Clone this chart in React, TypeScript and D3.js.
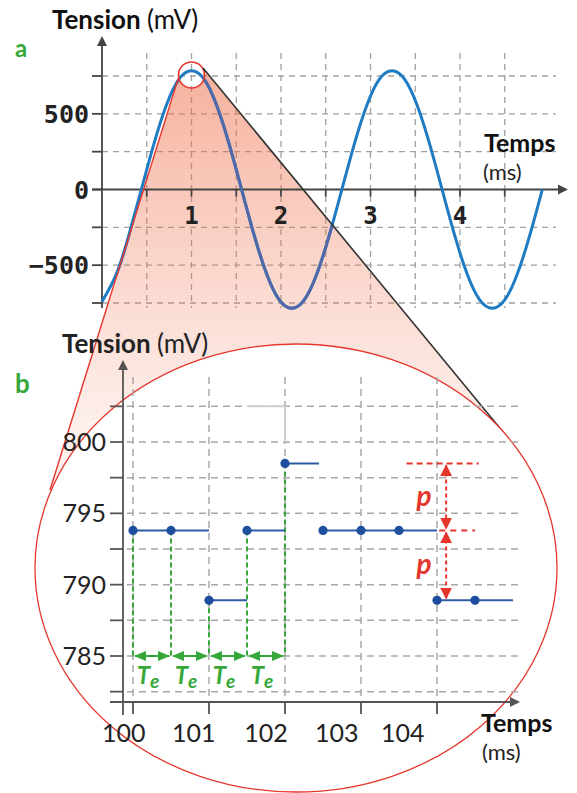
import * as d3 from "d3";

// ---- chart a : 440 Hz-like tension wave
const waveTimes = [
  0, 0.16, 0.3, 0.44, 0.58, 0.72, 0.86, 1.0, 1.14, 1.28, 1.42, 1.56, 1.7, 1.84,
  1.98, 2.12, 2.26, 2.4, 2.54, 2.68, 2.82, 2.96, 3.1, 3.24, 3.38, 3.52, 3.66,
  3.8, 3.94, 4.08, 4.22, 4.36, 4.5, 4.64, 4.78, 4.92,
];
const waveValues = [
  -740, -559, -302, 0, 302, 559, 730, 785, 730, 559, 302, 0, -302, -559, -730,
  -785, -730, -559, -302, 0, 302, 559, 730, 785, 730, 559, 302, 0, -302, -559,
  -730, -785, -730, -559, -302, 0,
];
const topYTicks = [-750, -500, -250, 0, 250, 500, 750];
const topYLabels = [-500, 0, 500];
const topXTicks = [0.5, 1, 1.5, 2, 2.5, 3, 3.5, 4, 4.5];
const topXLabels = [1, 2, 3, 4];

// ---- chart b : sampled + quantized signal
const sampleTimes = [100, 100.5, 101, 101.5, 102, 102.5, 103, 103.5, 104, 104.5];
const sampleValues = [793.8, 793.8, 788.9, 793.8, 798.5, 793.8, 793.8, 793.8, 788.9, 788.9];
const botYTicks = [782.5, 785, 787.5, 790, 792.5, 795, 797.5, 800, 802.5];
const botYLabels = [785, 790, 795, 800];
const botXTicks = [100, 101, 102, 103, 104];
const botXLabelNames = ["100", "101", "102", "103", "104"];
const botXLabelAt = [99.88, 100.8, 101.75, 102.68, 103.55];
const teCount = 4; // number of Te intervals drawn

const GREEN = "#36a83a";
const RED = "#e5362c";
const BLUE = "#1f7bc2";
const FONT = "Lato, 'Open Sans', sans-serif";
const MONO = "'DejaVu Sans Mono', monospace";

const App = () => {
  // scales chart a
  const xA = d3.scaleLinear().domain([0, 5]).range([102, 549.5]);
  const yA = d3.scaleLinear().domain([-750, 750]).range([303, 76]);
  // scales chart b
  const xB = d3.scaleLinear().domain([100, 104]).range([133, 437]);
  const yB = d3.scaleLinear().domain([785, 800]).range([656, 442]);

  const wavePts = waveTimes.map((t, i) => [t, waveValues[i]] as [number, number]);
  const waveLine = d3
    .line<[number, number]>()
    .x((d) => xA(d[0]))
    .y((d) => yA(d[1]))
    .curve(d3.curveNatural);
  const wavePath = waveLine(wavePts) || "";

  // zoom cone geometry
  const zc = { x: xA(1), y: 75, r: 13 };
  const ell = { cx: 296, cy: 568, rx: 261, ry: 224 };
  const coneL0 = [178, 79];
  const coneR0 = [203, 68];
  const coneL1 = [50, 490];
  const coneR1 = [508, 438];
  const conePoly = [coneL0, coneR0, coneR1, [ell.cx, ell.cy], coneL1]
    .map((p) => p.join(","))
    .join(" ");

  const levels = Array.from(new Set(sampleValues)).sort((a, b) => b - a);
  const pX = xB(104.12);

  return (
    <svg
      width={577}
      height={793}
      style={{ position: "absolute", left: 0, top: 0, background: "#fff" }}
      fontFamily={FONT}
    >
      <defs>
        <linearGradient id="coneGrad" gradientUnits="userSpaceOnUse" x1="0" y1="70" x2="0" y2="430">
          <stop offset="0" stopColor="#ef6a45" stopOpacity={0.52} />
          <stop offset="1" stopColor="#f08060" stopOpacity={0.12} />
        </linearGradient>
        <mask id="noCircle">
          <rect x={0} y={0} width={577} height={793} fill="#fff" />
          <circle cx={zc.x} cy={zc.y} r={zc.r} fill="#000" />
        </mask>
        <clipPath id="coneClip">
          <polygon points={conePoly} />
        </clipPath>
        <marker id="arrG" viewBox="0 0 10 10" refX="9" refY="5" markerWidth="7" markerHeight="7" orient="auto-start-reverse">
          <path d="M0,1 L10,5 L0,9 z" fill={GREEN} />
        </marker>
        <marker id="arrR" viewBox="0 0 10 10" refX="9" refY="5" markerWidth="6" markerHeight="8" orient="auto-start-reverse">
          <path d="M0,0 L10,5 L0,10 z" fill={RED} />
        </marker>
      </defs>

      {/* ================= chart a ================= */}
      <g>
        {topXTicks.map((t) => (
          <line key={"gx" + t} x1={xA(t)} x2={xA(t)} y1={53} y2={308}
            stroke="#a0a0a0" strokeWidth={1.3} strokeDasharray="6,5" />
        ))}
        {topYTicks.filter((v) => v !== 0).map((v) => (
          <line key={"gy" + v} x1={102} x2={556} y1={yA(v)} y2={yA(v)}
            stroke="#a0a0a0" strokeWidth={1.3} strokeDasharray="6,5" />
        ))}
      </g>

      {/* cone fill under the wave */}
      <polygon points={conePoly} fill="url(#coneGrad)" mask="url(#noCircle)" />

      {/* axes a */}
      <g stroke="#444" strokeWidth={1.8}>
        <line x1={xA(0)} x2={xA(0)} y1={308} y2={44} />
        <line x1={92} x2={560} y1={yA(0)} y2={yA(0)} />
        {topYTicks.map((v) => (
          <line key={"ty" + v} x1={92} x2={xA(0)} y1={yA(v)} y2={yA(v)} />
        ))}
        {topXTicks.map((t) => (
          <line key={"tx" + t} x1={xA(t)} x2={xA(t)} y1={yA(0)} y2={yA(0) + 7} />
        ))}
      </g>
      <path d={`M${xA(0) - 5},46 L${xA(0)},36 L${xA(0) + 5},46 z`} fill="#444" />
      <path d={`M558,${yA(0) - 5} L568,${yA(0)} L558,${yA(0) + 5} z`} fill="#444" />

      {/* wave */}
      <path d={wavePath} fill="none" stroke={BLUE} strokeWidth={3} />
      <g clipPath="url(#coneClip)">
        <path d={wavePath} fill="none" stroke="#5169a8" strokeWidth={3} mask="url(#noCircle)" />
      </g>

      {/* labels a */}
      {topYLabels.map((v) => (
        <text key={"ly" + v} x={89} y={yA(v) + 9} textAnchor="end" fontFamily={MONO}
          fontWeight="bold" fontSize={25} fill="#222">
          {v < 0 ? "\u2212" + Math.abs(v) : v}
        </text>
      ))}
      {topXLabels.map((t) => (
        <text key={"lx" + t} x={xA(t)} y={224} textAnchor="middle" fontFamily={MONO}
          fontWeight="bold" fontSize={24} fill="#222">
          {t}
        </text>
      ))}
      <text x={52} y={29} fontSize={26} fill="#111">
        <tspan fontWeight="bold">Tension </tspan>
        <tspan>(mV)</tspan>
      </text>
      <text x={15} y={57} fontSize={24} fontWeight="bold" fill={GREEN}>a</text>
      <text x={484} y={152} fontSize={25} fontWeight="bold" fill="#111">Temps</text>
      <text x={483} y={180} fontSize={22} fill="#222">(ms)</text>

      {/* zoom circle and cone edges */}
      <circle cx={zc.x} cy={zc.y} r={zc.r} fill="none" stroke={RED} strokeWidth={1.6} />
      <line x1={coneL0[0]} y1={coneL0[1]} x2={coneL1[0]} y2={coneL1[1]} stroke={RED} strokeWidth={1.4} />
      <line x1={coneR0[0]} y1={coneR0[1]} x2={coneR1[0]} y2={coneR1[1]} stroke="#333" strokeWidth={1.6} />

      {/* magnifier ellipse */}
      <ellipse cx={ell.cx} cy={ell.cy} rx={ell.rx} ry={ell.ry} fill="#fff" stroke={RED} strokeWidth={1.3} />

      {/* ================= chart b ================= */}
      <g>
        {botXTicks.map((t) => (
          <line key={"bgx" + t} x1={xB(t)} x2={xB(t)} y1={377} y2={702}
            stroke="#a8a8a8" strokeWidth={1.5} strokeDasharray="7,5" />
        ))}
        {botYTicks.map((v) => (
          <line key={"bgy" + v} x1={127} x2={523} y1={yB(v)} y2={yB(v)}
            stroke="#a8a8a8" strokeWidth={1.5} strokeDasharray="7,5" />
        ))}
        <polyline
          points={`${xB(101.5)},${yB(802.5)} ${xB(102)},${yB(802.5)} ${xB(102)},${yB(800)}`}
          fill="none" stroke="#cfcfcf" strokeWidth={2} />
      </g>

      {/* axes b */}
      <g stroke="#555" strokeWidth={1.8}>
        <line x1={123} x2={123} y1={715} y2={368} />
        <line x1={110} x2={512} y1={702} y2={702} />
        {botYTicks.map((v) => (
          <line key={"by" + v} x1={110} x2={123} y1={yB(v)} y2={yB(v)} />
        ))}
        {botXTicks.map((t) => (
          <line key={"bx" + t} x1={xB(t)} x2={xB(t)} y1={702} y2={714} />
        ))}
      </g>
      <path d="M118,370 L123,360 L128,370 z" fill="#555" />
      <path d="M510,697 L520,702 L510,707 z" fill="#555" />

      {/* green sampling marks */}
      {sampleTimes.slice(0, teCount + 1).map((t, i) => (
        <line key={"gv" + i} x1={xB(t)} x2={xB(t)} y1={yB(sampleValues[i])} y2={yB(785)}
          stroke={GREEN} strokeWidth={2} strokeDasharray="5,3" />
      ))}
      {d3.range(teCount).map((i) => {
        const a = xB(sampleTimes[i]);
        const b = xB(sampleTimes[i + 1]);
        return (
          <g key={"te" + i}>
            <line x1={a + 2} x2={b - 2} y1={yB(785)} y2={yB(785)} stroke={GREEN} strokeWidth={1.8}
              markerStart="url(#arrG)" markerEnd="url(#arrG)" />
            <text x={(a + b) / 2 - 4} y={684} textAnchor="middle" fill={GREEN}
              fontStyle="italic" fontWeight="bold" fontSize={24}>
              T<tspan fontSize={19} dy={4}>e</tspan>
            </text>
          </g>
        );
      })}

      {/* held samples */}
      {sampleTimes.map((t, i) => (
        <line key={"h" + i} x1={xB(t)} x2={xB(t + 0.5) - (sampleValues[i] > 797 ? 4 : 0)}
          y1={yB(sampleValues[i])} y2={yB(sampleValues[i])} stroke="#2f5ca6" strokeWidth={2} />
      ))}
      {sampleTimes.map((t, i) => (
        <circle key={"d" + i} cx={xB(t)} cy={yB(sampleValues[i])} r={4.6} fill="#1d4f9e" />
      ))}

      {/* quantum p */}
      <line x1={xB(103.6)} x2={xB(104.55)} y1={yB(levels[0])} y2={yB(levels[0])}
        stroke={RED} strokeWidth={2} strokeDasharray="6,4" />
      <line x1={xB(104.03)} x2={xB(104.5)} y1={yB(levels[1])} y2={yB(levels[1])}
        stroke={RED} strokeWidth={2} strokeDasharray="6,5" />
      {[0, 1].map((k) => (
        <g key={"p" + k}>
          <line x1={pX} x2={pX} y1={yB(levels[k]) + 2} y2={yB(levels[k + 1]) - 2}
            stroke={RED} strokeWidth={2} strokeDasharray="4,3"
            markerStart="url(#arrR)" markerEnd="url(#arrR)" />
          <text x={xB(103.83)} y={(yB(levels[k]) + yB(levels[k + 1])) / 2 + 9}
            textAnchor="middle" fill={RED} fontStyle="italic" fontWeight="bold" fontSize={28}>
            p
          </text>
        </g>
      ))}

      {/* labels b */}
      {botYLabels.map((v) => (
        <text key={"bly" + v} x={106} y={yB(v) + 9} textAnchor="end" fontSize={25} fill="#222">
          {v}
        </text>
      ))}
      {botXLabelNames.map((n, i) => (
        <text key={"blx" + n} x={xB(botXLabelAt[i])} y={742} textAnchor="middle" fontSize={25} fill="#222">
          {n}
        </text>
      ))}
      <text x={62} y={353} fontSize={26} fill="#222">
        <tspan fontWeight="bold">Tension </tspan>
        <tspan>(mV)</tspan>
      </text>
      <text x={15} y={393} fontSize={26} fontWeight="bold" fill={GREEN}>b</text>
      <text x={481} y={732} fontSize={25} fontWeight="bold" fill="#111">Temps</text>
      <text x={482} y={760} fontSize={22} fill="#222">(ms)</text>
    </svg>
  );
};

export default App;
